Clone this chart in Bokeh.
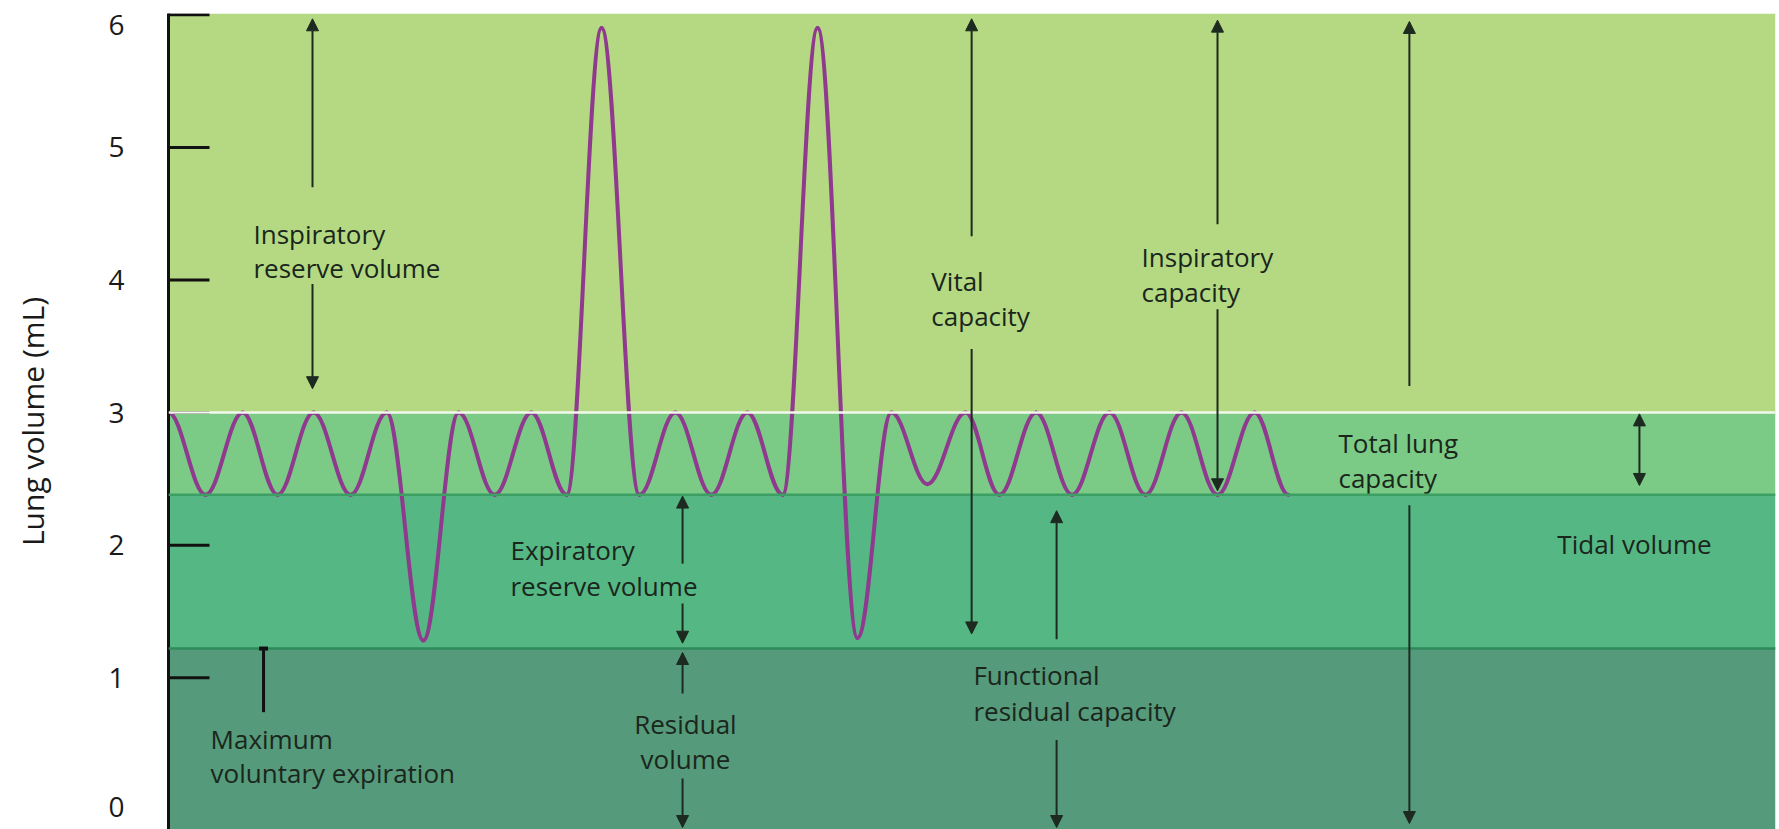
from bokeh.plotting import figure
from bokeh.models import ColumnDataSource, Arrow, NormalHead, TeeHead, Range1d, FixedTicker, Span
from bokeh.core.properties import value
from bokeh.embed import file_html
from bokeh.resources import INLINE

# ---------------- data ----------------
# extrema of the spirometer trace (time in arbitrary units, volume)
breath_t = [0.0, 1.03, 2.06, 3.03, 4.03, 5.06, 6.06, 7.08, 8.06, 9.06, 10.08, 11.06,
            12.03, 13.08, 14.08, 15.08, 16.08, 17.06, 18.03, 19.14, 20.08, 21.08,
            22.14, 23.08, 24.1, 25.1, 26.14, 27.14, 28.14, 29.14, 30.17, 31.11]
breath_v = [3.0, 2.38, 3.0, 2.38, 3.0, 2.38, 3.0, 1.28, 3.0, 2.38, 3.0, 2.38,
            5.9, 2.38, 3.0, 2.38, 3.0, 2.38, 5.9, 1.30, 3.0, 2.46,
            3.0, 2.38, 3.0, 2.38, 3.0, 2.38, 3.0, 2.38, 3.0, 2.38]

# volume bands (bottom -> top)
band_bottom = [-0.145, 1.22, 2.38, 3.0]
band_top = [1.22, 2.38, 3.0, 6.01]
band_colors = ["#559a7b", "#55b784", "#7bcb86", "#b4d982"]

# boundary lines between bands
boundary_v = [3.0, 2.38, 1.22]
boundary_colors = ["#f2f9ec", "#3d9f64", "#2f8a5a"]

y_tick_values = [0, 1, 2, 3, 4, 5, 6]
y_tick_labels = ["0", "1", "2", "3", "4", "5", "6"]
y_tick_marked = [1, 2, 3, 4, 5, 6]          # the reference draws no mark at 0
y_label = "Lung volume (mL)"

# label lines: x, baseline y, text
lab_left_x = [2.36, 2.36, 21.19, 21.19, 27.03, 27.03, 32.5, 32.5, 38.58,
              9.5, 9.5, 22.36, 22.36, 1.17, 1.17]
lab_left_y = [4.35, 4.09, 3.99, 3.73, 4.17, 3.91, 2.77, 2.51, 2.01,
              1.96, 1.69, 1.02, 0.75, 0.54, 0.28]
lab_left_text = ["Inspiratory", "reserve volume", "Vital", "capacity",
                 "Inspiratory", "capacity", "Total lung", "capacity", "Tidal volume",
                 "Expiratory", "reserve volume", "Functional", "residual capacity",
                 "Maximum", "voluntary expiration"]
lab_center_x = [14.36, 14.36]
lab_center_y = [0.65, 0.39]
lab_center_text = ["Residual", "volume"]

# single-headed arrows
arr_x0 = [4.0, 4.0, 22.31, 22.31, 29.14, 29.14, 34.47, 34.47, 14.28, 14.28, 14.28, 14.28, 24.67, 24.67]
arr_y0 = [4.70, 3.97, 4.33, 3.48, 4.42, 3.78, 3.20, 2.30, 1.86, 1.56, 0.88, 0.24, 1.29, 0.53]
arr_y1 = [5.97, 3.18, 5.97, 1.33, 5.96, 2.41, 5.95, -0.10, 2.37, 1.26, 1.19, -0.13, 2.26, -0.13]
# double-headed tidal-volume arrow
tv_x = [40.86]
tv_y0 = [2.99]
tv_y1 = [2.45]
# maximum voluntary expiration marker
mve_x = [2.64]
mve_y0 = [0.74]
mve_y1 = [1.22]

# ---------------- figure ----------------
X_END = 44.64
Y0, Y1 = -0.145, 6.01
FRAME_H = 816
PX = FRAME_H / (Y1 - Y0)        # pixels per volume unit
XPX = 36.0                      # pixels per time unit

p = figure(width=1779, height=829, x_range=Range1d(0, X_END), y_range=Range1d(Y0, Y1),
           output_backend="svg", toolbar_location=None, x_axis_location=None,
           min_border_left=168, min_border_right=4, min_border_top=13, min_border_bottom=0,
           outline_line_color=None, background_fill_color="white", border_fill_color="white")
p.grid.visible = False

p.quad(left=[0] * len(band_bottom), right=[X_END] * len(band_bottom),
       bottom=band_bottom, top=band_top, fill_color=band_colors, line_color=None)

for v, c in zip(boundary_v, boundary_colors):
    p.add_layout(Span(location=v, dimension="width", line_color=c, line_width=2.5))

# inward tick marks (inside the frame, as in the reference)
p.segment(x0=[0] * len(y_tick_marked), y0=y_tick_marked,
          x1=[41 / XPX] * len(y_tick_marked), y1=y_tick_marked,
          line_color="#111111", line_width=3)

# smooth trace: half-cosine-like cubic segments between consecutive extrema
K = 0.3642
x0 = breath_t[:-1]
x1 = breath_t[1:]
y0 = breath_v[:-1]
y1 = breath_v[1:]
cx0 = [a + K * (b - a) for a, b in zip(x0, x1)]
cx1 = [b - K * (b - a) for a, b in zip(x0, x1)]
p.bezier(x0=x0, y0=y0, x1=x1, y1=y1, cx0=cx0, cy0=y0, cx1=cx1, cy1=y1,
         line_color="#8f3a8f", line_width=4, line_cap="round")

AC = "#1d2a20"
arr_src = ColumnDataSource(dict(x0=arr_x0, y0=arr_y0, x1=arr_x0, y1=arr_y1))
p.add_layout(Arrow(source=arr_src, x_start="x0", y_start="y0", x_end="x1", y_end="y1",
                   line_color=AC, line_width=2,
                   end=NormalHead(size=12, fill_color=AC, line_color=AC, line_width=1)))
tv_src = ColumnDataSource(dict(x0=tv_x, y0=tv_y0, x1=tv_x, y1=tv_y1))
p.add_layout(Arrow(source=tv_src, x_start="x0", y_start="y0", x_end="x1", y_end="y1",
                   line_color=AC, line_width=2,
                   start=NormalHead(size=12, fill_color=AC, line_color=AC, line_width=1),
                   end=NormalHead(size=12, fill_color=AC, line_color=AC, line_width=1)))
mve_src = ColumnDataSource(dict(x0=mve_x, y0=mve_y0, x1=mve_x, y1=mve_y1))
p.add_layout(Arrow(source=mve_src, x_start="x0", y_start="y0", x_end="x1", y_end="y1",
                   line_color="#111111", line_width=3,
                   end=TeeHead(size=9, line_color="#111111", line_width=4)))

TC = "#1a261c"
p.text(x=lab_left_x, y=lab_left_y, text=lab_left_text, text_font=value("Open Sans"),
       text_font_size="26px", text_color=TC, text_align="left", text_baseline="alphabetic")
p.text(x=lab_center_x, y=lab_center_y, text=lab_center_text, text_font=value("Open Sans"),
       text_font_size="26px", text_color=TC, text_align="center", text_baseline="alphabetic")

# axis labels: the top label "6" sits ~10px under its mark; "0" kept clear of the bottom edge
label_nudge_px = {6: 10, 0: -3}
label_pos = [v - label_nudge_px.get(v, 0) / PX for v in y_tick_values]

ax = p.yaxis[0]
ax.ticker = FixedTicker(ticks=label_pos)
ax.major_label_overrides = {pos: s for pos, s in zip(label_pos, y_tick_labels)}
ax.axis_line_width = 3
ax.axis_line_color = "#111111"
ax.major_tick_in = 0
ax.major_tick_out = 0
ax.minor_tick_in = 0
ax.minor_tick_out = 0
ax.major_label_standoff = 44
ax.major_label_text_font = "Open Sans"
ax.major_label_text_font_size = "28px"
ax.major_label_text_color = "#1a1a1a"
ax.axis_label = y_label
ax.axis_label_text_font = "Open Sans"
ax.axis_label_text_font_size = "30px"
ax.axis_label_text_font_style = "normal"
ax.axis_label_text_color = "#1a1a1a"
ax.axis_label_standoff = 52

open("out.html", "w").write(file_html(p, INLINE))
